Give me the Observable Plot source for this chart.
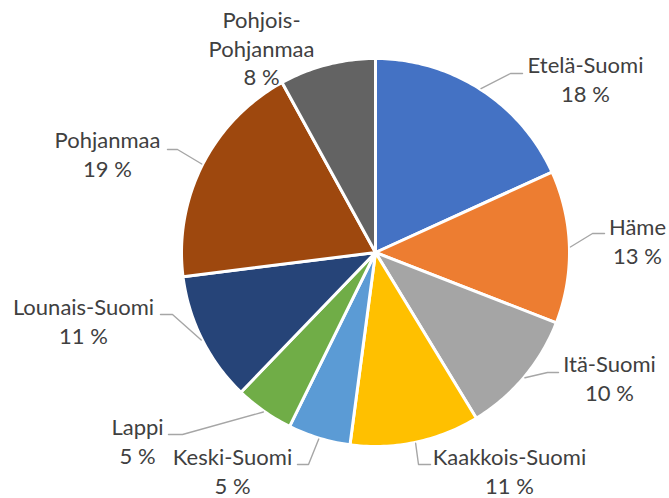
<!DOCTYPE html>
<html>
<head>
<meta charset="utf-8">
<script src="https://cdn.jsdelivr.net/npm/d3@7"></script>
<script src="https://cdn.jsdelivr.net/npm/@observablehq/plot@0.6"></script>
<style>
  html, body { margin: 0; padding: 0; background: #ffffff; }
  #chart { width: 669px; height: 498px; }
</style>
</head>
<body>
<div id="chart"></div>
<script>
// ---- data ----
const regions = ["Etelä-Suomi", "Häme", "Itä-Suomi", "Kaakkois-Suomi", "Keski-Suomi", "Lappi", "Lounais-Suomi", "Pohjanmaa", "Pohjois-Pohjanmaa"];
const shares = [18.2, 12.7, 10.4, 10.8, 5.2, 4.9, 10.8, 19.0, 8.0];
const percentLabels = ["18 %", "13 %", "10 %", "11 %", "5 %", "5 %", "11 %", "19 %", "8 %"];
const nameLines = [["Etelä-Suomi"], ["Häme"], ["Itä-Suomi"], ["Kaakkois-Suomi"], ["Keski-Suomi"], ["Lappi"], ["Lounais-Suomi"], ["Pohjanmaa"], ["Pohjois-", "Pohjanmaa"]];

// ---- style / layout ----
const colors = ["#4472C4", "#ED7D31", "#A5A5A5", "#FFC000", "#5B9BD5", "#70AD47", "#264478", "#9E480E", "#636363"];
const W = 669, H = 498, CX = 375, CY = 252, R = 194;
const fontSize = 22, lineStep = 28.5, baselineFix = 5;
// label text centre x and first baseline y (px)
const labelX = [585, 637, 609, 509, 232, 137, 83, 107, 261];
const labelBase = [73, 235, 372, 465, 465, 435, 315, 148, 28];
// leader line elbow and end (px); null = no leader
const leaderElbow = [[510, 73], [592, 233], [547, 372], [418, 464], [308, 464], [182, 434], [172, 314], [177, 149], null];
const leaderEnd = [[522, 73], [604, 233], [558, 372], [430, 464], [297, 464], [168, 434], [160, 314], [167, 149], null];

const ux = px => (px - CX) / R;
const uy = py => (CY - py) / R;

const pie = d3.pie().sort(null).value(d => d.value).startAngle(0).endAngle(2 * Math.PI);
const table = regions.map((name, i) => ({name, value: shares[i], i}));
const arcs = pie(table);

// slice polygons in unit-circle coordinates
const slicePts = [];
for (const a of arcs) {
  const name = a.data.name;
  slicePts.push({name, x: 0, y: 0});
  const n = Math.max(2, Math.ceil((a.endAngle - a.startAngle) / (Math.PI / 180)));
  for (let k = 0; k <= n; k++) {
    const t = a.startAngle + (a.endAngle - a.startAngle) * k / n;
    slicePts.push({name, x: Math.sin(t), y: Math.cos(t)});
  }
  slicePts.push({name, x: 0, y: 0});
}

// leader lines
const leaderPts = [];
arcs.forEach((a, i) => {
  if (!leaderElbow[i]) return;
  const m = (a.startAngle + a.endAngle) / 2;
  const name = a.data.name;
  leaderPts.push({name, x: Math.sin(m) * 1.005, y: Math.cos(m) * 1.005});
  leaderPts.push({name, x: ux(leaderElbow[i][0]), y: uy(leaderElbow[i][1])});
  leaderPts.push({name, x: ux(leaderEnd[i][0]), y: uy(leaderEnd[i][1])});
});

// labels
const labels = regions.map((name, i) => ({
  name,
  text: [...nameLines[i], percentLabels[i]].join("\n"),
  x: ux(labelX[i]),
  y: uy(labelBase[i] - 0.71 * fontSize - baselineFix)
}));

const chart = Plot.plot({
  width: W,
  height: H,
  margin: 0,
  style: {background: "#ffffff"},
  x: {domain: [ux(0), ux(W)], axis: null},
  y: {domain: [uy(H), uy(0)], axis: null},
  color: {domain: regions, range: colors},
  marks: [
    Plot.line(slicePts, {x: "x", y: "y", z: "name", fill: "name", stroke: "#ffffff", strokeWidth: 3, strokeLinejoin: "round", curve: "linear"}),
    Plot.line(leaderPts, {x: "x", y: "y", z: "name", stroke: "#A6A6A6", strokeWidth: 1.4, curve: "linear"}),
    Plot.text(labels, {x: "x", y: "y", text: "text", lineAnchor: "top", lineHeight: lineStep / fontSize, textAnchor: "middle", fontSize: fontSize, fontFamily: "Lato, 'Liberation Sans', sans-serif", fill: "#404040"})
  ]
});
document.getElementById("chart").appendChild(chart);
</script>
</body>
</html>
